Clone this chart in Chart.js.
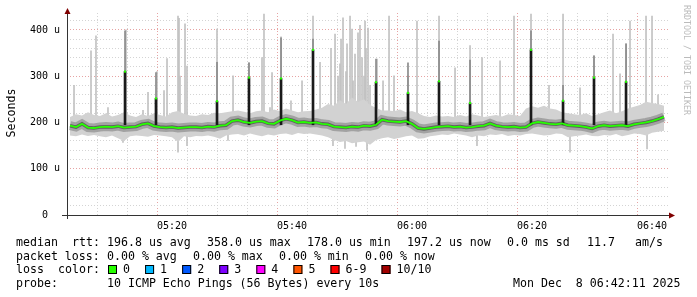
<!DOCTYPE html>
<html>
<head>
<meta charset="utf-8">
<script src="https://cdn.jsdelivr.net/npm/chart.js@4.4.1/dist/chart.umd.min.js"></script>
<style>
    html, body { margin: 0; padding: 0; background: #fff; }
</style>
</head>
<body>
<canvas id="smoke" width="697" height="297"></canvas>
<script>
// time is in minutes after 05:00, values in microseconds
const startMinute = 3;

const medianRtt = [
    193, 190, 197, 189, 188, 190, 191, 190, 192, 189,
    190, 191, 196, 198, 192, 190, 189, 190, 188, 189,
    190, 190, 189, 191, 190, 193, 194, 203, 205, 201,
    199, 202, 203, 198, 197, 204, 208, 205, 200, 201,
    199, 200, 197, 196, 191, 190, 189, 191, 190, 193,
    192, 195, 206, 203, 202, 201, 203, 197, 188, 186,
    188, 190, 191, 192, 190, 191, 189, 190, 192, 193,
    198, 193, 191, 190, 191, 189, 190, 198, 201, 199,
    197, 196, 198, 194, 193, 192, 190, 187, 192, 194,
    192, 193, 194, 192, 196, 198, 200, 203, 207, 212
];

const smokeLow = [
    172, 170, 174, 171, 173, 170, 168, 172, 166, 160,
    170, 172, 171, 169, 173, 172, 170, 168, 158, 170,
    168, 171, 170, 172, 169, 165, 172, 174, 175, 172,
    176, 173, 170, 174, 172, 175, 176, 173, 177, 175,
    176, 174, 172, 168, 162, 158, 160, 155, 157, 159,
    152, 162, 166, 168, 164, 167, 170, 172, 165, 166,
    170, 172, 174, 173, 176, 174, 172, 168, 172, 170,
    174, 173, 175, 171, 173, 172, 175, 176, 174, 172,
    173, 176, 175, 168, 170, 172, 174, 171, 170, 173,
    172, 175, 170, 173, 176, 175, 172, 178, 180, 182
];

const smokeHigh = [
    212, 218, 215, 222, 216, 214, 220, 213, 216, 222,
    215, 212, 218, 214, 220, 216, 213, 222, 225, 219,
    215, 214, 218, 216, 221, 220, 222, 224, 226, 223,
    220, 224, 226, 222, 228, 224, 230, 226, 222, 224,
    225, 228, 232, 240, 236, 248, 240, 254, 244, 250,
    238, 232, 226, 226, 224, 228, 222, 225, 220, 214,
    212, 215, 213, 214, 212, 216, 213, 218, 215, 212,
    214, 216, 213, 218, 216, 214, 230, 235, 232, 236,
    230, 228, 222, 220, 218, 216, 220, 214, 218, 222,
    226, 220, 224, 230, 234, 238, 245, 242, 240, 236
];

// single slow pings above the smoke
const spikeMinutes = [
    3.67, 6.5, 7.33, 9.33, 12.33, 15.17, 16.0, 17.5, 18.67, 19.17,
    21.0, 21.17, 21.33, 22.17, 22.5, 27.5, 30.17, 32.83, 35.0, 35.33,
    36.33, 36.67, 38.17, 39.83, 41.67, 43.5, 44.67, 46.5, 47.17, 47.67,
    48.0, 48.17, 48.5, 49.0, 49.17, 49.67, 50.0, 50.17, 50.5, 51.0,
    51.33, 51.67, 52.0, 52.17, 52.33, 52.67, 53.0, 54.17, 55.17, 56.17,
    57.0, 59.33, 60.83, 64.5, 67.17, 69.67, 71.67, 74.67, 77.0, 79.83,
    82.83, 85.17, 88.0, 90.33, 93.5, 94.67, 95.67, 96.33, 99.0, 100.0,
    101.0
];
const spikeTops = [
    280, 355, 387, 232, 400, 226, 265, 310, 269, 338,
    430, 425, 300, 413, 322, 402, 301, 329, 340, 434,
    232, 308, 385, 247, 290, 430, 330, 360, 391, 300,
    327, 380, 426, 310, 370, 430, 402, 290, 348, 394,
    410, 340, 300, 419, 360, 404, 280, 337, 290, 430,
    301, 301, 419, 430, 318, 366, 340, 333, 430, 434,
    280, 434, 275, 344, 391, 305, 370, 419, 430, 430,
    260
];

// single fast pings below the smoke
const dipMinutes = [11.83, 21.0, 22.5, 29.33, 46.83, 48.83, 50.67, 52.5, 70.83, 86.33, 99.17];
const dipLows = [157, 136, 150, 161, 150, 144, 148, 140, 150, 136, 143];

// steps where the median itself jumped
const peakMinutes = [12.17, 17.33, 27.5, 32.83, 38.17, 43.5, 54.0, 59.33, 64.5, 69.67, 79.83, 85.17, 90.33, 95.67];
const peakMedians = [310, 252, 246, 297, 295, 357, 287, 264, 289, 242, 357, 247, 297, 288];
const peakTops = [398, 308, 330, 329, 383, 380, 337, 329, 376, 335, 398, 280, 344, 370];

const xLabelMinutes = [20, 40, 60, 80, 100];
const xTickLabels = ['05:20', '05:40', '06:00', '06:20', '06:40'];

const lossLabels = ['0', '1', '2', '3', '4', '5', '6-9', '10/10'];
const lossColors = ['#26ff00', '#00b8ff', '#0059ff', '#7e00ff', '#ff00ff', '#ff5500', '#ff0000', '#a10000'];

const legendRows = [
    [['median', 16], ['rtt:', 72], ['196.8 us avg', 107], ['358.0 us max', 207], ['178.0 us min', 307],
     ['197.2 us now', 407], ['0.0 ms sd', 507], ['11.7', 587], ['am/s', 635]],
    [['packet loss:', 16], ['0.00 % avg', 107], ['0.00 % max', 193], ['0.00 % min', 279], ['0.00 % now', 365]],
    [['loss', 16], ['color:', 58]],
    [['probe:', 16], ['10 ICMP Echo Pings (56 Bytes) every 10s', 107], ['Mon Dec  8 06:42:11 2025', 513]]
];
const legendBaselines = [245.5, 259.5, 273, 287];

const mono = '"DejaVu Sans Mono", monospace';
const minuteOf = i => startMinute + i;
const asPoints = arr => arr.map((v, i) => ({ x: minuteOf(i), y: v }));

const overlay = {
    id: 'overlay',
    afterDraw(chart) {
        const ctx = chart.ctx;
        const a = chart.chartArea;
        ctx.save();

        // axes
        ctx.strokeStyle = '#333';
        ctx.lineWidth = 1;
        ctx.beginPath();
        ctx.moveTo(a.left - 5, a.bottom + 0.5);
        ctx.lineTo(a.right + 1, a.bottom + 0.5);
        ctx.moveTo(a.left + 0.5, a.bottom + 4);
        ctx.lineTo(a.left + 0.5, a.top);
        ctx.stroke();

        // arrows
        ctx.fillStyle = '#800000';
        ctx.beginPath();
        ctx.moveTo(a.left + 0.5, a.top - 5);
        ctx.lineTo(a.left - 2.5, a.top + 1);
        ctx.lineTo(a.left + 3.5, a.top + 1);
        ctx.closePath();
        ctx.fill();
        ctx.beginPath();
        ctx.moveTo(a.right + 6, a.bottom + 0.5);
        ctx.lineTo(a.right, a.bottom - 2.5);
        ctx.lineTo(a.right, a.bottom + 3.5);
        ctx.closePath();
        ctx.fill();

        // y title
        ctx.fillStyle = '#000';
        ctx.font = '11.6px ' + mono;
        ctx.save();
        ctx.translate(15, 113);
        ctx.rotate(-Math.PI / 2);
        ctx.textAlign = 'center';
        ctx.fillText('Seconds', 0, 0);
        ctx.restore();

        // watermark
        ctx.save();
        ctx.fillStyle = '#bbbbbb';
        ctx.font = '8.3px ' + mono;
        ctx.translate(684, 5);
        ctx.rotate(Math.PI / 2);
        ctx.textAlign = 'left';
        ctx.fillText('RRDTOOL / TOBI OETIKER', 0, 0);
        ctx.restore();

        // legend text
        ctx.font = '11.6px ' + mono;
        ctx.textAlign = 'left';
        ctx.textBaseline = 'alphabetic';
        legendRows.forEach((row, r) => {
            row.forEach(([text, x]) => ctx.fillText(text, x, legendBaselines[r]));
        });

        // loss colour boxes
        let x = 108;
        lossLabels.forEach((label, i) => {
            ctx.fillStyle = lossColors[i];
            ctx.fillRect(x, 265, 9, 9);
            ctx.strokeStyle = '#000';
            ctx.strokeRect(x + 0.5, 265.5, 8, 8);
            ctx.fillStyle = '#000';
            ctx.fillText(label, x + 15, legendBaselines[2]);
            x += 15 + ctx.measureText(label).width + 15.1;
        });

        ctx.restore();
    }
};

const gridColor = (ctx, isMajor) => {
    if (!ctx.tick) return 'rgba(0,0,0,0)';
    return isMajor(ctx.tick.value) ? '#e6a3a3' : '#d4d4d4';
};

new Chart(document.getElementById('smoke'), {
    type: 'line',
    data: {
        datasets: [
            {
                data: asPoints(smokeLow),
                borderWidth: 0,
                pointRadius: 0,
                fill: false,
                order: 7
            },
            {
                data: asPoints(smokeHigh),
                borderWidth: 0,
                pointRadius: 0,
                backgroundColor: '#d2d2d2',
                fill: '-1',
                order: 6
            },
            {
                type: 'bar',
                data: spikeMinutes.map((m, i) => ({ x: m, y: [210, spikeTops[i]] })),
                backgroundColor: '#c2c2c2',
                barThickness: 1,
                grouped: false,
                order: 8
            },
            {
                type: 'bar',
                data: dipMinutes.map((m, i) => ({ x: m, y: [dipLows[i], 180] })),
                backgroundColor: '#c2c2c2',
                barThickness: 1,
                grouped: false,
                order: 8
            },
            {
                data: asPoints(medianRtt),
                borderColor: 'rgba(90, 90, 90, 0.4)',
                borderWidth: 9,
                pointRadius: 0,
                tension: 0,
                order: 5
            },
            {
                data: asPoints(medianRtt),
                borderColor: 'rgba(30, 30, 30, 0.5)',
                borderWidth: 3.5,
                pointRadius: 0,
                tension: 0,
                order: 4
            },
            {
                type: 'bar',
                data: peakMinutes.map((m, i) => ({ x: m, y: [peakMedians[i], peakTops[i]] })),
                backgroundColor: '#8a8a8a',
                barThickness: 1,
                grouped: false,
                order: 3
            },
            {
                type: 'bar',
                data: peakMinutes.map((m, i) => ({ x: m, y: [195, peakMedians[i]] })),
                backgroundColor: '#1a1a1a',
                barThickness: 2,
                grouped: false,
                order: 2
            },
            {
                data: asPoints(medianRtt),
                borderColor: '#26ff00',
                borderWidth: 1.8,
                pointRadius: 0,
                tension: 0,
                order: 1
            },
            {
                data: peakMinutes.map((m, i) => ({ x: m, y: peakMedians[i] })),
                showLine: false,
                pointStyle: 'rect',
                pointRadius: 1.5,
                pointBorderWidth: 0,
                pointBackgroundColor: '#26ff00',
                order: 0
            }
        ]
    },
    options: {
        responsive: false,
        animation: false,
        devicePixelRatio: 1,
        layout: { padding: { top: 12, right: 28, bottom: 0, left: 0 } },
        plugins: {
            legend: { display: false },
            tooltip: { enabled: false }
        },
        scales: {
            x: {
                type: 'linear',
                min: 2.5,
                max: 102.83,
                offset: false,
                grid: {
                    color: ctx => gridColor(ctx, v => xLabelMinutes.includes(v)),
                    lineWidth: 1,
                    drawTicks: false
                },
                border: { display: false, dash: [1, 2], color: '#333' },
                ticks: {
                    padding: 5,
                    autoSkip: false,
                    maxRotation: 0,
                    color: '#000',
                    font: { family: 'DejaVu Sans Mono', size: 10 },
                    callback: v => {
                        const i = xLabelMinutes.indexOf(v);
                        return i >= 0 ? xTickLabels[i] : '';
                    }
                },
                afterBuildTicks: s => {
                    const t = [];
                    for (let m = 5; m <= 100; m += 5) t.push({ value: m });
                    s.ticks = t;
                },
                afterFit: s => { s.height = 82; }
            },
            y: {
                min: 0,
                max: 436.6,
                grid: {
                    color: ctx => (ctx.tick && ctx.tick.value === 0) ? 'rgba(0,0,0,0)' :
                        gridColor(ctx, v => v % 100 === 0),
                    lineWidth: 1,
                    drawTicks: false
                },
                border: { display: false, dash: [1, 2], color: '#333' },
                ticks: {
                    padding: 7,
                    autoSkip: false,
                    color: '#000',
                    font: { family: 'DejaVu Sans Mono', size: 10 },
                    callback: v => v % 100 !== 0 ? '' : (v === 0 ? '0  ' : v + ' u')
                },
                afterBuildTicks: s => {
                    const t = [];
                    for (let v = 0; v <= 420; v += 20) t.push({ value: v });
                    s.ticks = t;
                },
                afterFit: s => { s.width = 67; }
            }
        }
    },
    plugins: [overlay]
});
</script>
</body>
</html>
